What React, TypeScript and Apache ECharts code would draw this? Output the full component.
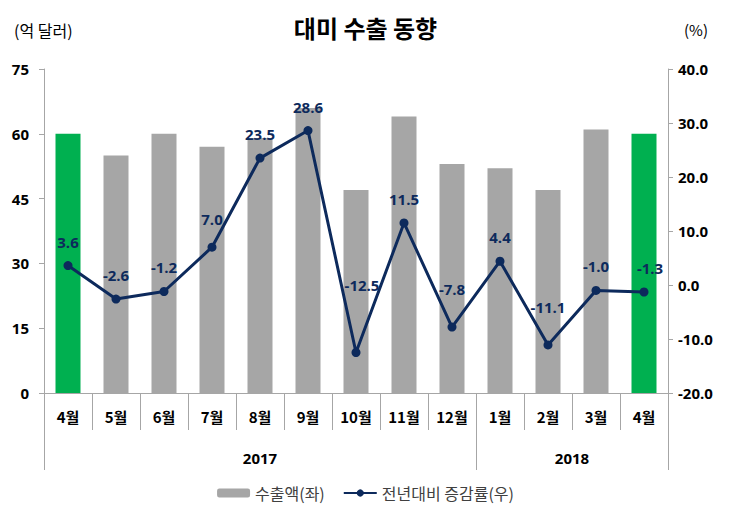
import React, { useEffect, useRef } from "react";
import * as echarts from "echarts";

const months = ["4월", "5월", "6월", "7월", "8월", "9월", "10월", "11월", "12월", "1월", "2월", "3월", "4월"];
const years = ["2017", "2018"];
const yearSpans = [9, 4];
const exports = [60, 55, 60, 57, 59, 66, 47, 64, 53, 52, 47, 61, 60];
const growth = [3.6, -2.6, -1.2, 7.0, 23.5, 28.6, -12.5, 11.5, -7.8, 4.4, -11.1, -1.0, -1.3];
const highlighted = [0, 12];
const leftTicks = { min: 0, max: 75, interval: 15 };
const rightTicks = { min: -20, max: 40, interval: 10 };
// extra label lift (px) for labels that the original places higher / shifted
const labelLift = [0, 0, 0, 4, 0, 0, 44, 0, 14, 0, 14, 0, 0];
const labelShift = [0, 0, 0, 0, 0, 0, 6, 0, 0, 0, 0, 0, 6];

const KFONT = "'Noto Sans CJK KR', 'Noto Sans', sans-serif";
const NFONT = "'Open Sans', 'Noto Sans', sans-serif";
const GRAY = "#a6a6a6";
const GREEN = "#00b050";
const NAVY = "#0d2a5c";

export default function App() {
  const ref = useRef<HTMLDivElement>(null);
  useEffect(() => {
    if (!ref.current) return;
    const chart = echarts.init(ref.current, null, { renderer: "svg" });
    chart.setOption({
      animation: false,
      backgroundColor: "#ffffff",
      title: [
        { text: "대미 수출 동향", left: "center", top: 10, textStyle: { fontFamily: KFONT, fontSize: 24, fontWeight: "bold", color: "#000" } },
        { text: "(억 달러)", left: 9, top: 17, textStyle: { fontFamily: KFONT, fontSize: 16, fontWeight: "normal", color: "#000" } },
        { text: "(%)", right: 18, top: 17, textStyle: { fontFamily: KFONT, fontSize: 15, fontWeight: "normal", color: "#000" } },
      ],
      legend: {
        bottom: 12,
        left: "center",
        itemGap: 18,
        itemWidth: 33,
        itemHeight: 9,
        textStyle: { fontFamily: KFONT, fontSize: 16, color: "#404040" },
        data: ["수출액(좌)", "전년대비 증감률(우)"],
      },
      grid: { left: 44, right: 63, top: 69, bottom: 125 },
      xAxis: [
        {
          type: "category",
          data: months,
          axisLine: { lineStyle: { color: GRAY } },
          axisTick: { show: true, length: 37, interval: 0, lineStyle: { color: GRAY } },
          axisLabel: { interval: 0, margin: 16, fontFamily: KFONT, fontSize: 15, fontWeight: "bold", color: "#000" },
        },
      ],
      yAxis: [
        {
          type: "value",
          ...leftTicks,
          axisLine: { show: true, lineStyle: { color: GRAY } },
          axisTick: { show: true, length: 5, lineStyle: { color: GRAY } },
          splitLine: { show: false },
          axisLabel: { margin: 15, fontFamily: NFONT, fontSize: 15, fontWeight: "bold", color: "#000" },
        },
        {
          type: "value",
          position: "right",
          ...rightTicks,
          axisLine: { show: true, lineStyle: { color: GRAY } },
          axisTick: { show: true, length: 5, lineStyle: { color: GRAY } },
          splitLine: { show: false },
          axisLabel: {
            margin: 10,
            fontFamily: NFONT,
            fontSize: 15,
            fontWeight: "bold",
            color: "#000",
            formatter: (v: number) => v.toFixed(1),
          },
        },
      ],
      series: [
        {
          name: "수출액(좌)",
          type: "bar",
          barWidth: 25,
          itemStyle: { color: GRAY },
          data: exports.map((v, i) => ({
            value: v,
            itemStyle: { color: highlighted.includes(i) ? GREEN : GRAY },
          })),
        },
        {
          name: "전년대비 증감률(우)",
          type: "line",
          yAxisIndex: 1,
          data: growth.map((v, i) => ({
            value: v,
            label: { offset: [labelShift[i], -labelLift[i]] },
          })),
          symbol: "circle",
          symbolSize: 9,
          lineStyle: { color: NAVY, width: 3 },
          itemStyle: { color: NAVY },
          label: {
            show: true,
            position: "top",
            distance: 12,
            fontFamily: NFONT,
            fontSize: 15,
            fontWeight: "bold",
            color: NAVY,
            formatter: (p: any) => Number(p.value).toFixed(1),
          },
          z: 5,
        },
      ],
    });

    // Year row of the two-level category axis, positioned from the axis scale
    const x0 = chart.convertToPixel({ xAxisIndex: 0 }, 0) as number;
    const x1 = chart.convertToPixel({ xAxisIndex: 0 }, 1) as number;
    const band = x1 - x0;
    const yBase = chart.convertToPixel({ yAxisIndex: 0 }, 0) as number;
    const elements: any[] = [];
    let start = 0;
    const bounds: number[] = [0];
    yearSpans.forEach((s) => {
      start += s;
      bounds.push(start);
    });
    bounds.forEach((b) => {
      const x = Math.round(x0 - band / 2 + b * band) + 0.5;
      elements.push({
        type: "line",
        shape: { x1: x, y1: yBase + 37, x2: x, y2: yBase + 77 },
        style: { stroke: GRAY, lineWidth: 1 },
      });
    });
    years.forEach((yr, i) => {
      const cx = x0 - band / 2 + ((bounds[i] + bounds[i + 1]) / 2) * band;
      elements.push({
        type: "text",
        x: cx,
        y: yBase + 65,
        style: {
          text: yr,
          fontFamily: NFONT,
          fontSize: 15,
          fontWeight: "bold",
          fill: "#000",
          align: "center",
          verticalAlign: "middle",
        },
      });
    });
    chart.setOption({ graphic: elements });
    return () => chart.dispose();
  }, []);
  return <div ref={ref} style={{ width: 731, height: 518, margin: -8 }} />;
}
